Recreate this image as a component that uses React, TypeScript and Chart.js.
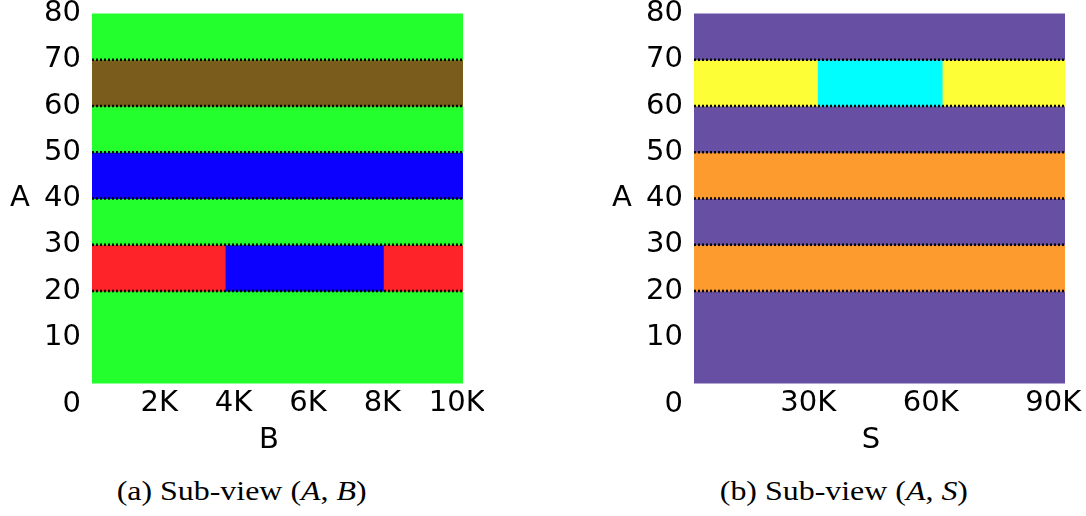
import React, { useEffect, useRef } from "react";
import { Chart, registerables } from "chart.js";

Chart.register(...registerables);

const SANS = "'DejaVu Sans', 'Liberation Sans', sans-serif";
const SERIF = "'Liberation Serif', 'DejaVu Serif', serif";
const TICK_SIZE = 29;

// Cell colours
const GREEN = "#22ff2d";
const BROWN = "#7a5c1c";
const BLUE = "#0c00ff";
const RED = "#fe2229";
const PURPLE = "#6750a3";
const ORANGE = "#fe9b2f";
const YELLOW = "#fdfe35";
const CYAN = "#00feff";

// Shared A axis
const aMin = 0;
const aMax = 80;
const aTickValues = [10, 20, 30, 40, 50, 60, 70, 80];
const rowHeight = 10;
const boundaryLevels = [20, 30, 40, 50, 60, 70];

// Sub-view (A, B)
const bMin = 194;
const bMax = 10167;
const bTickValues = [2000, 4000, 6000, 8000, 10000];
const bTickLabels = ["2K", "4K", "6K", "8K", "10K"];
const abRowStart = [0, 10, 20, 20, 20, 30, 40, 50, 60, 70];
const abFrom = [bMin, bMin, bMin, 3800, 8050, bMin, bMin, bMin, bMin, bMin];
const abTo = [bMax, bMax, 3800, 8050, bMax, bMax, bMax, bMax, bMax, bMax];
const abColor = [GREEN, GREEN, RED, BLUE, RED, GREEN, BLUE, GREEN, BROWN, GREEN];

// Sub-view (A, S)
const sMin = 2006;
const sMax = 92863;
const sTickValues = [30000, 60000, 90000];
const sTickLabels = ["30K", "60K", "90K"];
const asRowStart = [0, 10, 20, 30, 40, 50, 60, 60, 60, 70];
const asFrom = [sMin, sMin, sMin, sMin, sMin, sMin, sMin, 32450, 63000, sMin];
const asTo = [sMax, sMax, sMax, sMax, sMax, sMax, 32450, 63000, sMax, sMax];
const asColor = [PURPLE, PURPLE, ORANGE, PURPLE, ORANGE, PURPLE, YELLOW, CYAN, YELLOW, PURPLE];

type PanelProps = {
  xMin: number;
  xMax: number;
  xTickValues: number[];
  xTickLabels: string[];
  rowStart: number[];
  from: number[];
  to: number[];
  colors: string[];
  xTitle: string;
  yTitle: string;
};

const CANVAS_W = 484;
const CANVAS_H = 460;

// Horizontal axis titles and the shared origin label
const axisText = {
  id: "axisText",
  afterDraw(chart: any, _args: any, opts: any) {
    const { ctx, chartArea } = chart;
    ctx.save();
    ctx.fillStyle = "#000";
    ctx.font = `${TICK_SIZE}px ${SANS}`;
    ctx.textBaseline = "middle";
    ctx.textAlign = "center";
    ctx.fillText(opts.yTitle, 20, (chartArea.top + chartArea.bottom) / 2);
    ctx.fillText(opts.xTitle, 269, 440);
    ctx.textAlign = "right";
    ctx.fillText("0", chartArea.left - 11, 404);
    ctx.restore();
  },
};

function Panel(p: PanelProps) {
  const ref = useRef<HTMLCanvasElement | null>(null);

  useEffect(() => {
    if (!ref.current) return;
    const font = { family: SANS, size: TICK_SIZE };
    const chart = new Chart(ref.current, {
      type: "scatter",
      data: {
        datasets: [
          ...boundaryLevels.map((level) => ({
            type: "line" as const,
            data: [
              { x: p.xMin, y: level },
              { x: p.xMax, y: level },
            ],
            borderColor: "#050505",
            borderWidth: 2.6,
            borderDash: [2, 2],
            pointRadius: 0,
            fill: false,
            order: 1,
          })),
          {
            type: "bar" as const,
            indexAxis: "y" as const,
            data: p.rowStart.map((r, i) => ({ y: r + rowHeight / 2, x: [p.from[i], p.to[i]] })),
            backgroundColor: p.colors,
            borderWidth: 0,
            barPercentage: 1,
            categoryPercentage: 1,
            inflateAmount: 0.5,
            order: 2,
          },
        ] as any,
      },
      options: {
        responsive: false,
        animation: false,
        events: [],
        layout: { padding: { left: 0, top: 13.5, right: 21, bottom: 0 } },
        plugins: {
          legend: { display: false },
          tooltip: { enabled: false },
          axisText: { xTitle: p.xTitle, yTitle: p.yTitle },
        } as any,
        scales: {
          x: {
            type: "linear",
            min: p.xMin,
            max: p.xMax,
            offset: false,
            grid: { display: false, drawTicks: false },
            border: { display: false },
            afterBuildTicks: (scale: any) => {
              scale.ticks = p.xTickValues.map((v) => ({ value: v }));
            },
            ticks: {
              autoSkip: false,
              maxRotation: 0,
              padding: 3,
              color: "#000",
              font,
              callback: (_v: any, i: number) => p.xTickLabels[i],
            },
            afterFit: (scale: any) => {
              scale.height = CANVAS_H - 383.5;
              scale.paddingLeft = 0;
              scale.paddingRight = 0;
            },
          },
          y: {
            type: "linear",
            min: aMin,
            max: aMax,
            offset: false,
            grid: { display: false, drawTicks: false },
            border: { display: false },
            afterBuildTicks: (scale: any) => {
              scale.ticks = aTickValues.map((v) => ({ value: v }));
            },
            ticks: {
              autoSkip: false,
              padding: 11,
              color: "#000",
              font,
            },
            afterFit: (scale: any) => {
              scale.width = 92;
              scale.paddingTop = 0;
              scale.paddingBottom = 0;
            },
          },
        } as any,
      },
      plugins: [axisText],
    });
    return () => chart.destroy();
  }, []);

  return (
    <canvas
      ref={ref}
      width={CANVAS_W}
      height={CANVAS_H}
      style={{ width: CANVAS_W, height: CANVAS_H, display: "block" }}
    />
  );
}

const captionStyle: React.CSSProperties = {
  position: "absolute",
  top: 476,
  left: 0,
  width: CANVAS_W,
  textAlign: "center",
  fontFamily: SERIF,
  fontSize: 28,
  lineHeight: "30px",
  color: "#000",
  whiteSpace: "nowrap",
};

export default function App() {
  return (
    <div
      style={{
        position: "fixed",
        left: 0,
        top: 0,
        width: 1086,
        height: 516,
        background: "#fff",
        overflow: "hidden",
      }}
    >
      <div style={{ position: "absolute", left: 0, top: 0 }}>
        <Panel
          xMin={bMin}
          xMax={bMax}
          xTickValues={bTickValues}
          xTickLabels={bTickLabels}
          rowStart={abRowStart}
          from={abFrom}
          to={abTo}
          colors={abColor}
          xTitle="B"
          yTitle="A"
        />
        <div style={captionStyle}>
          <span style={{ display: "inline-block", transform: "scaleX(1.14)" }}>
            (a) Sub-view (<i>A</i>, <i>B</i>)
          </span>
        </div>
      </div>
      <div style={{ position: "absolute", left: 602, top: 0 }}>
        <Panel
          xMin={sMin}
          xMax={sMax}
          xTickValues={sTickValues}
          xTickLabels={sTickLabels}
          rowStart={asRowStart}
          from={asFrom}
          to={asTo}
          colors={asColor}
          xTitle="S"
          yTitle="A"
        />
        <div style={captionStyle}>
          <span style={{ display: "inline-block", transform: "scaleX(1.14)" }}>
            (b) Sub-view (<i>A</i>, <i>S</i>)
          </span>
        </div>
      </div>
    </div>
  );
}
